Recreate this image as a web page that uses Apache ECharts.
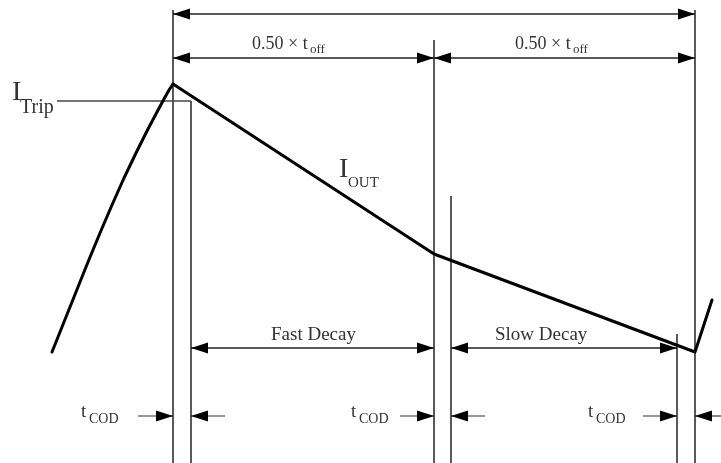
<!DOCTYPE html>
<html><head><meta charset="utf-8">
<script src="https://cdn.jsdelivr.net/npm/echarts@6/dist/echarts.min.js"></script>
<style>html,body{margin:0;padding:0;background:#fff}#c{width:721px;height:463px}</style>
</head><body><div id="c"></div>
<script>
// I_OUT waveform: rising part (curved) and decay part (straight segments)
const iOutRise  = [[52,352],[64,322],[76,292],[88,262],[100,233],[112,205],[124,178],[136,153],[147,131],[157,112],[164,99],[169,90],[173,84]];
const iOutDecay = [[173,84],[434,254],[695,352],[712,300]];
// I_Trip level line
const iTripLine = [[57,101],[191,101]];
// vertical marker lines: [x, top]
const markers = [[173,10],[191,101],[434,40],[451,196],[677,334],[695,10]];
const markerBottom = 463;
// dimension arrows with heads at both ends: [x1, x2, y]
const dims = [[173,695,14],[173,434,58],[434,695,58],[191,434,348],[451,677,348]];
// tCOD pointers: [tailX, tipX, y]
const pointers = [[138,173,416],[225,191,416],[400,434,416],[485,451,416],[643,677,416],[721,695,416]];
// text labels: [text, x, y, fontSize]
const labels = [
  ['0.50 × t', 252, 44, 18], ['off', 310, 50, 13],
  ['0.50 × t', 515, 44, 18], ['off', 573, 50, 13],
  ['I', 12, 93, 28], ['Trip', 20, 108, 20],
  ['I', 339, 170, 28], ['OUT', 348, 183, 15],
  ['Fast Decay', 271, 335, 19],
  ['Slow Decay', 495, 335, 19],
  ['t', 81, 412, 19], ['COD', 89, 419, 14],
  ['t', 351, 412, 19], ['COD', 359, 419, 14],
  ['t', 588, 412, 19], ['COD', 596, 419, 14]
];

const FONT = '"Liberation Serif", "DejaVu Serif", serif';
const LINE_COLOR = '#222';
const TEXT_COLOR = '#333';
const AH_L = 17, AH_W = 11;

function head(api, tip, y, dir) {
  const p = api.coord([tip, y]);
  return {
    type: 'polygon',
    shape: { points: [[p[0], p[1]], [p[0] - dir * AH_L, p[1] - AH_W / 2], [p[0] - dir * AH_L, p[1] + AH_W / 2]] },
    style: { fill: '#000' }
  };
}

const chart = echarts.init(document.getElementById('c'), null, { renderer: 'canvas' });
chart.setOption({
  animation: false,
  backgroundColor: '#fff',
  grid: { left: 0, right: 0, top: 0, bottom: 0 },
  xAxis: { type: 'value', min: 0, max: 721, show: false },
  yAxis: { type: 'value', min: 0, max: 463, inverse: true, show: false },
  series: [
    {
      type: 'custom', name: 'markers', data: markers, silent: true,
      renderItem: (params, api) => {
        const x = api.value(0), top = api.value(1);
        const a = api.coord([x, top]), b = api.coord([x, markerBottom]);
        return { type: 'line', shape: { x1: a[0], y1: a[1], x2: b[0], y2: b[1] }, style: { stroke: LINE_COLOR, lineWidth: 1.5 } };
      }
    },
    {
      type: 'line', name: 'ITrip', data: iTripLine, symbol: 'none', silent: true,
      lineStyle: { color: '#444', width: 1.6 }
    },
    {
      type: 'custom', name: 'dims', data: dims, silent: true,
      renderItem: (params, api) => {
        const x1 = api.value(0), x2 = api.value(1), y = api.value(2);
        const a = api.coord([x1, y]), b = api.coord([x2, y]);
        return { type: 'group', children: [
          { type: 'line', shape: { x1: a[0], y1: a[1], x2: b[0], y2: b[1] }, style: { stroke: '#222', lineWidth: 1.5 } },
          head(api, x1, y, -1), head(api, x2, y, 1)
        ] };
      }
    },
    {
      type: 'custom', name: 'pointers', data: pointers, silent: true,
      renderItem: (params, api) => {
        const t = api.value(0), tip = api.value(1), y = api.value(2);
        const dir = tip > t ? 1 : -1;
        const a = api.coord([t, y]), b = api.coord([tip, y]);
        return { type: 'group', children: [
          { type: 'line', shape: { x1: a[0], y1: a[1], x2: b[0], y2: b[1] }, style: { stroke: '#333', lineWidth: 1.2 } },
          head(api, tip, y, dir)
        ] };
      }
    },
    {
      type: 'line', name: 'IOUT rise', data: iOutRise, symbol: 'none', smooth: false, silent: true,
      lineStyle: { color: '#000', width: 3, cap: 'round', join: 'round' }
    },
    {
      type: 'line', name: 'IOUT decay', data: iOutDecay, symbol: 'none', silent: true,
      lineStyle: { color: '#000', width: 3, cap: 'round', join: 'round' }
    },
    {
      type: 'custom', name: 'labels', silent: true,
      data: labels.map((l, i) => [l[1], l[2], i]),
      renderItem: (params, api) => {
        const l = labels[api.value(2)];
        const p = api.coord([l[1], l[2]]);
        return { type: 'text', x: p[0], y: p[1],
          style: { text: l[0], fontSize: l[3], fontFamily: FONT, fill: TEXT_COLOR, align: 'left', verticalAlign: 'middle' } };
      }
    }
  ]
});
</script></body></html>
